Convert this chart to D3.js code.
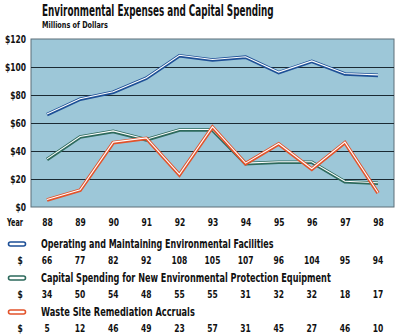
<!DOCTYPE html>
<html><head><meta charset="utf-8">
<script src="https://cdn.jsdelivr.net/npm/d3@7"></script>
<style>
html,body{margin:0;padding:0;background:#fff;}
text{font-family:"Liberation Sans Narrow","DejaVu Sans Condensed","Liberation Sans",sans-serif;font-weight:bold;fill:#111;}
</style></head>
<body><svg id="c" width="400" height="334"></svg>
<script>
const years = ["88","89","90","91","92","93","94","95","96","97","98"];
const opValues = [66,77,82,92,108,105,107,96,104,95,94];
const capValues = [34,50,54,48,55,55,31,32,32,18,17];
const wasteValues = [5,12,46,49,23,57,31,45,27,46,10];
const yTicks = [0,20,40,60,80,100,120];
const seriesNames = ["Operating and Maintaining Environmental Facilities",
  "Capital Spending for New Environmental Protection Equipment",
  "Waste Site Remediation Accruals"];
const seriesColors = ["#1d4f96","#2d6a5c","#e2532b"];
const titleText = "Environmental Expenses and Capital Spending";
const subtitleText = "Millions of Dollars";

const svg = d3.select("#c");
const plot = {l:31, r:394, t:39, b:207};
const x = d3.scalePoint().domain(years).range([47,378]);
const y = d3.scaleLinear().domain([0,120]).range([plot.b, plot.t]);
const numScale = 0.8;

function fitText(str, x0, y0, size, width){
  const g = svg.append("g");
  const t = g.append("text").attr("x",0).attr("y",0).attr("font-size",size).text(str);
  const w = t.node().getComputedTextLength();
  g.attr("transform",`translate(${x0},${y0}) scale(${width/w},1)`);
  return t;
}

fitText(titleText, 42, 16, 15, 232);
fitText(subtitleText, 42, 28, 9, 66);

svg.append("rect").attr("x",plot.l).attr("y",plot.t).attr("width",plot.r-plot.l).attr("height",plot.b-plot.t)
  .attr("fill","#9dc7d8").attr("stroke","#5d6f78").attr("stroke-width",1);

svg.append("g").selectAll("line").data(yTicks.filter(v=>v>0 && v<120)).join("line")
  .attr("x1",plot.l).attr("x2",plot.r).attr("y1",d=>Math.round(y(d))+0.5).attr("y2",d=>Math.round(y(d))+0.5)
  .attr("stroke","#1b2a33").attr("stroke-width",1);

const yAxis = d3.axisLeft(y).tickValues(yTicks).tickFormat(d=>"$"+d).tickSize(0).tickPadding(0);
const ya = svg.append("g").attr("transform",`translate(26,0)`).call(yAxis);
ya.select(".domain").remove();
ya.selectAll("text").attr("font-size",10.5).attr("fill","#111").attr("transform",`scale(${numScale},1)`)
  .style("font-family",'"Liberation Sans Narrow","DejaVu Sans Condensed",sans-serif').style("font-weight","bold");

const line = d3.line().x((d,i)=>x(years[i])).y(d=>y(d));
const allSeries = [opValues, capValues, wasteValues];
const order = [1,0,2];
order.forEach(k=>{
  const g = svg.append("g");
  g.append("path").attr("d",line(allSeries[k])).attr("fill","none")
    .attr("stroke",seriesColors[k]).attr("stroke-width",3.6).attr("stroke-linejoin","miter");
  g.append("path").attr("d",line(allSeries[k])).attr("fill","none")
    .attr("transform","translate(0,-0.5)")
    .attr("stroke","#ffffff").attr("stroke-width",1.1).attr("stroke-linejoin","miter");
});

fitText("Year", 7, 226, 10, 16);
const xa = svg.append("g").attr("transform","translate(0,222)")
  .call(d3.axisBottom(x).tickSize(0).tickPadding(0));
xa.select(".domain").remove();
xa.selectAll("text").attr("dy","0.35em").attr("y",0).attr("font-size",10.5).attr("fill","#111")
  .attr("transform",`scale(${numScale},1)`)
  .style("font-family",'"Liberation Sans Narrow","DejaVu Sans Condensed",sans-serif').style("font-weight","bold");

const legW = [233,290,154];
allSeries.forEach((vals,k)=>{
  const ly = 244 + 34*k;
  const vy = ly + 16.5;
  svg.append("rect").attr("x",8.5).attr("y",ly-2).attr("width",17).attr("height",4).attr("rx",2)
    .attr("fill","#fff").attr("stroke",seriesColors[k]).attr("stroke-width",1.6);
  fitText(seriesNames[k], 41, ly+4, 11.5, legW[k]);
  svg.append("text").attr("transform",`translate(20,${vy}) scale(${numScale},1)`).attr("dy","0.35em")
    .attr("text-anchor","middle").attr("font-size",10.5).text("$");
  svg.append("g").selectAll("text").data(vals).join("text")
    .attr("transform",(d,i)=>`translate(${x(years[i])},${vy}) scale(${numScale},1)`)
    .attr("dy","0.35em").attr("text-anchor","middle")
    .attr("font-size",10.5).text(d=>d);
});
</script></body></html>
